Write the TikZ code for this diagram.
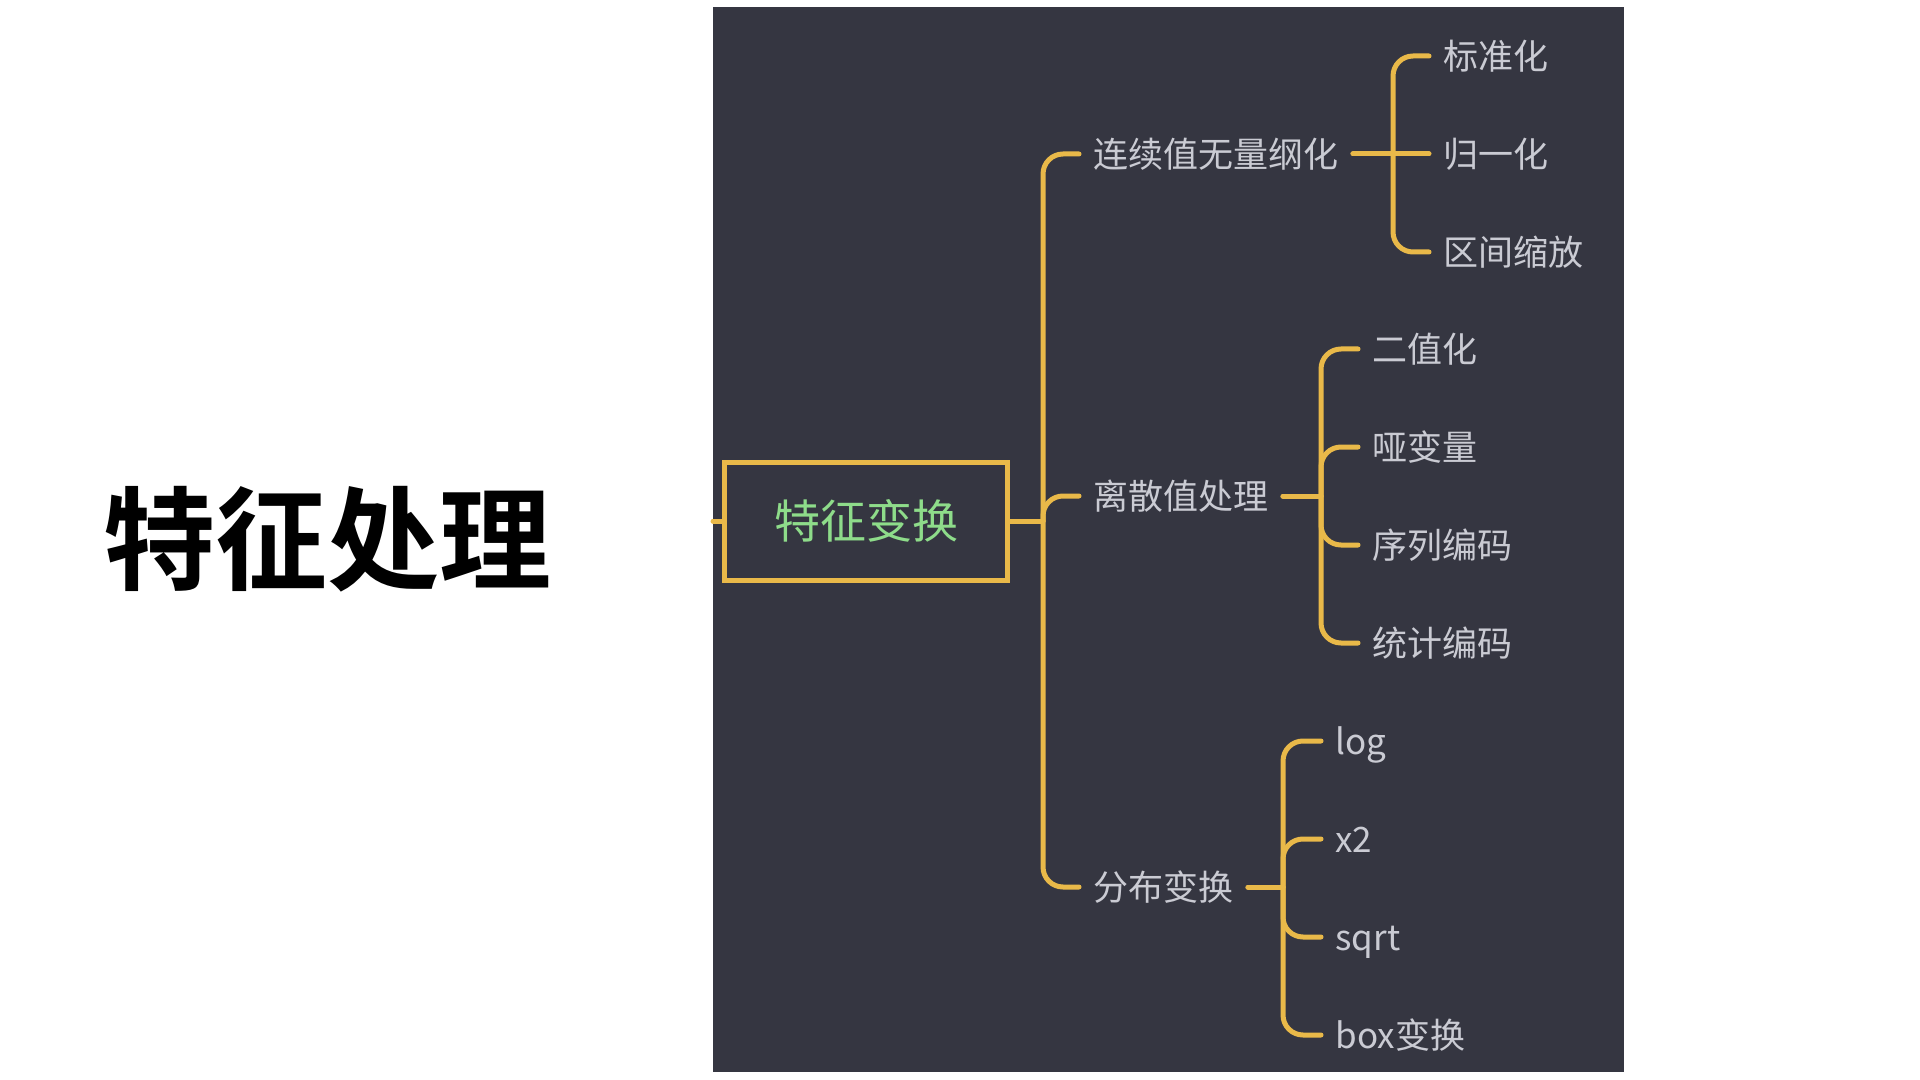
\documentclass[tikz,border=0pt]{standalone}
\usepackage{fontspec}
\setmainfont{Noto Sans CJK SC}
\newfontfamily\titlefont{Noto Sans CJK SC Bold}
\definecolor{panel}{HTML}{353641}
\definecolor{gold}{HTML}{E9B949}
\definecolor{leafgray}{HTML}{CACBD3}
\definecolor{rootgreen}{HTML}{8EDC8A}
\begin{document}
\begin{tikzpicture}[x=0.5pt,y=-0.5pt,
  link/.style={draw=gold, line width=2.5pt, line cap=round, rounded corners=10pt},
  lbl/.style={anchor=west, inner xsep=7pt, inner ysep=0pt, text height=13.3pt, text depth=0pt,
              text=leafgray, font=\fontsize{17.5}{20}\selectfont},
  rootbox/.style={draw=gold, line width=2.5pt, text=rootgreen, minimum width=141.5pt, minimum height=59pt,
              inner sep=0pt, text height=17.5pt, text depth=0pt, font=\fontsize{23}{26}\selectfont},
  titlestyle/.style={inner sep=0pt, text height=42.6pt, text depth=0pt, font=\fontsize{56}{60}\selectfont\titlefont},
]
\useasboundingbox (0,0) rectangle (1920,1080);
\fill[white] (0,0) rectangle (1920,1080);
\fill[panel] (713,7) rectangle (1624,1072);

% title
\node[titlestyle] (title) at (327,539) {特征处理};

% root
\node[rootbox] (root) at (866,521) {特征变换};
\coordinate (lstub) at (713,521);
\coordinate (j0) at (1043,521);

% level 1
\node[lbl] (c1) at (1079,154) {连续值无量纲化};
\node[lbl] (c2) at (1079,496) {离散值处理};
\node[lbl] (c3) at (1079,887) {分布变换};

% level 2
\node[lbl] (l11) at (1429,56) {标准化};
\node[lbl] (l12) at (1429,154) {归一化};
\node[lbl] (l13) at (1429,252) {区间缩放};

\node[lbl] (l21) at (1358,349) {二值化};
\node[lbl] (l22) at (1358,447) {哑变量};
\node[lbl] (l23) at (1358,545) {序列编码};
\node[lbl] (l24) at (1358,643) {统计编码};

\node[lbl] (l31) at (1321,741) {log};
\node[lbl] (l32) at (1321,839) {x2};
\node[lbl] (l33) at (1321,937) {sqrt};
\node[lbl] (l34) at (1321,1035) {box变换};

\coordinate (j1) at (1393,154);
\coordinate (j2) at (1321,496);
\coordinate (j3) at (1283,887);

% connectors
\draw[link] (lstub) -- (root.west);
\draw[link] (root.east) -- (j0);
\draw[link] (j0) |- (c1.west);
\draw[link] (j0) |- (c2.west);
\draw[link] (j0) |- (c3.west);

\draw[link] (c1.east) -- (l12.west);
\draw[link] (j1) |- (l11.west);
\draw[link] (j1) |- (l13.west);

\draw[link] (c2.east) -- (j2);
\draw[link] (j2) |- (l21.west);
\draw[link] (j2) |- (l22.west);
\draw[link] (j2) |- (l23.west);
\draw[link] (j2) |- (l24.west);

\draw[link] (c3.east) -- (j3);
\draw[link] (j3) |- (l31.west);
\draw[link] (j3) |- (l32.west);
\draw[link] (j3) |- (l33.west);
\draw[link] (j3) |- (l34.west);
\end{tikzpicture}
\end{document}
